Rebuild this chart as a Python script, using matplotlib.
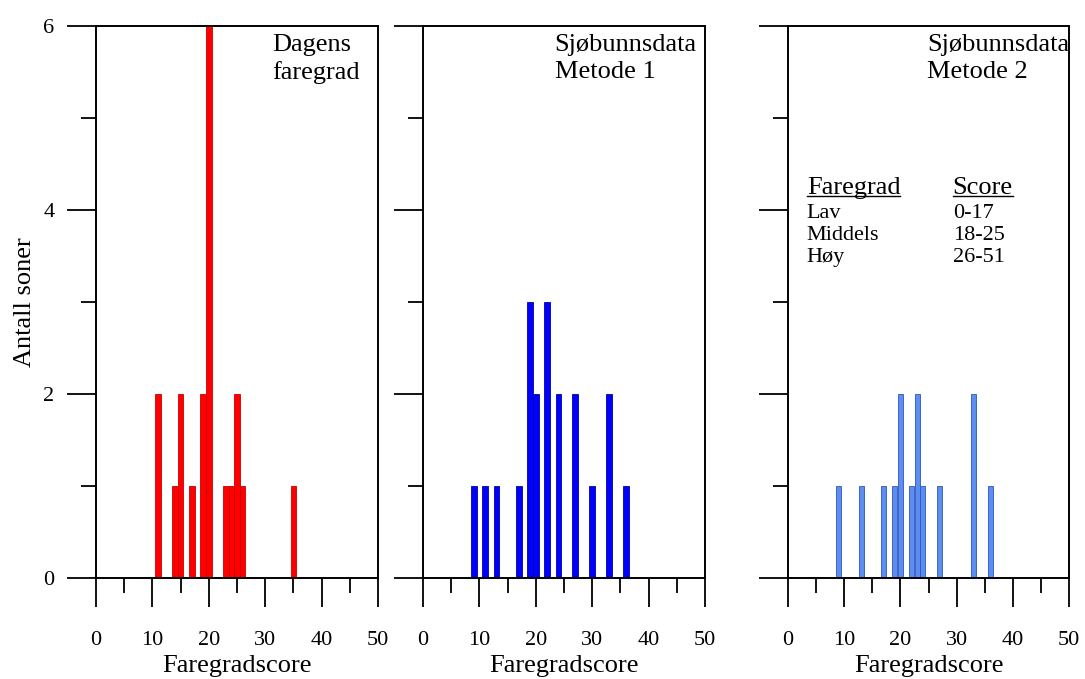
import matplotlib
matplotlib.use("Agg")
import matplotlib.pyplot as plt
from matplotlib.ticker import MultipleLocator

# faregradscore -> antall soner
dagens_scores = [11, 14, 15, 17, 19, 20, 23, 24, 25, 26, 35]
dagens_counts = [2, 1, 2, 1, 2, 6, 1, 1, 2, 1, 1]

metode1_scores = [9, 11, 13, 17, 19, 20, 22, 24, 27, 30, 33, 36]
metode1_counts = [1, 1, 1, 1, 3, 2, 3, 2, 2, 1, 2, 1]

metode2_scores = [9, 13, 17, 19, 20, 22, 23, 24, 27, 33, 36]
metode2_counts = [1, 1, 1, 1, 2, 1, 2, 1, 1, 2, 1]

panel_titles = ["Dagens\nfaregrad", "Sjøbunnsdata\nMetode 1", "Sjøbunnsdata\nMetode 2"]

klasser = ["Lav", "Middels", "Høy"]
klasse_score = ["0-17", "18-25", "26-51"]

plt.rcParams['font.family'] = ['Liberation Serif', 'DejaVu Serif']

fig = plt.figure(figsize=(10.85, 6.79), dpi=100)
W, H = 1085, 679

def px_axes(left, right, top, bottom):
    return fig.add_axes([left / W, (H - bottom) / H, (right - left) / W, (bottom - top) / H])

ax1 = px_axes(96, 378, 26, 578)
ax2 = px_axes(423, 705, 26, 578)
ax3 = px_axes(788, 1069, 26, 578)

panels = [
    (ax1, dagens_scores, dagens_counts, '#ff0000', '#c80000', 1.0, 0.624),
    (ax2, metode1_scores, metode1_counts, '#0000ff', '#0000a0', 1.0, 0.467),
    (ax3, metode2_scores, metode2_counts, '#5b8ef0', '#2f55c0', 0.9, 0.494),
]

for i, (ax, xs, ys, col, ecol, w, tx) in enumerate(panels):
    ax.bar(xs, ys, width=w, color=col, edgecolor=ecol, linewidth=0.6, zorder=1)
    ax.set_xlim(0, 50)
    ax.set_ylim(0, 6)
    ax.xaxis.set_major_locator(MultipleLocator(10))
    ax.xaxis.set_minor_locator(MultipleLocator(5))
    ax.yaxis.set_major_locator(MultipleLocator(2))
    ax.yaxis.set_minor_locator(MultipleLocator(1))
    ax.tick_params(which='major', direction='out', length=21, width=1.3, labelsize=16)
    ax.tick_params(which='minor', direction='out', length=10.5, width=1.3)
    ax.tick_params(axis='x', which='major', pad=17)
    ax.tick_params(axis='y', which='major', pad=9)
    for s in ax.spines.values():
        s.set_linewidth(1.4)
    ax.set_xlabel("Faregradscore", fontsize=19, labelpad=4)
    if i > 0:
        ax.set_yticklabels([])
    ax.text(tx, 0.985, panel_titles[i], transform=ax.transAxes, ha='left', va='top',
            fontsize=19, linespacing=1.25)

ax1.set_ylabel("Antall soner", fontsize=19, labelpad=5)

# tabell med faregradsklasser i panel 3
h1 = ax3.text(0.067, 0.696, "Faregrad", transform=ax3.transAxes, fontsize=19, va='baseline')
h2 = ax3.text(0.586, 0.696, "Score", transform=ax3.transAxes, fontsize=19, va='baseline')
rows_y = [0.652, 0.612, 0.572]
for k, s, y in zip(klasser, klasse_score, rows_y):
    ax3.text(0.067, y, k, transform=ax3.transAxes, fontsize=16, va='baseline')
    ax3.text(0.586, y, s, transform=ax3.transAxes, fontsize=16, va='baseline')

fig.canvas.draw()
r = fig.canvas.get_renderer()
for h in [h1, h2]:
    bb = h.get_window_extent(r).transformed(ax3.transAxes.inverted())
    ax3.plot([bb.x0, bb.x1], [0.696 - 0.004, 0.696 - 0.004], transform=ax3.transAxes,
             color='black', lw=1.0, clip_on=False)

plt.savefig("out.png", dpi=100)
